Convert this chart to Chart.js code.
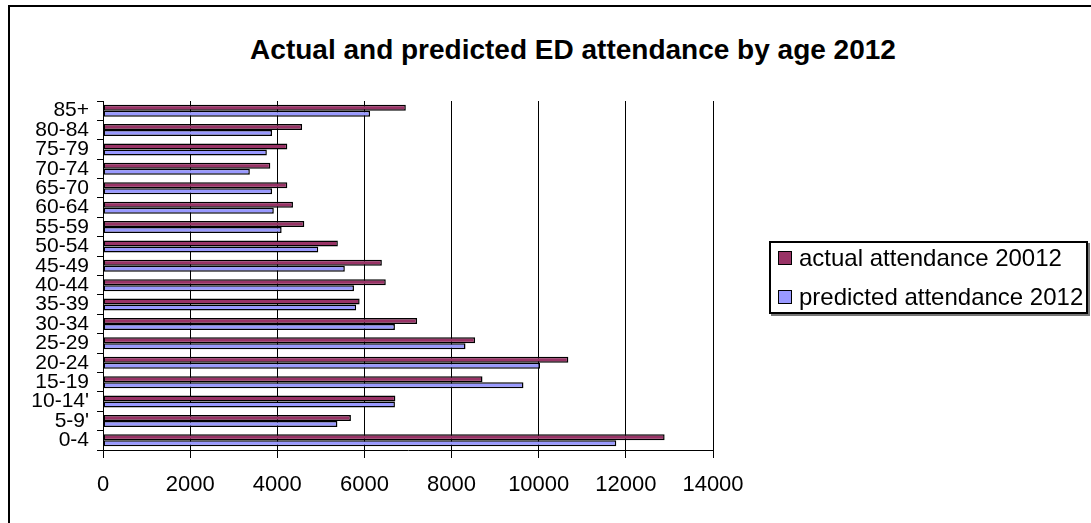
<!DOCTYPE html>
<html>
<head>
<meta charset="utf-8">
<script src="https://cdn.jsdelivr.net/npm/chart.js@4.4.1/dist/chart.umd.min.js"></script>
<style>
  html, body { margin: 0; padding: 0; background: #fff; overflow: hidden; }
  body { width: 1091px; height: 523px; position: relative; font-family: "Liberation Sans", Arial, sans-serif; }
  #frame { position: absolute; left: 8px; top: 5px; width: 1200px; height: 600px;
           border-left: 2px solid #000; border-top: 2px solid #000; }
  #title { position: absolute; left: 0; width: 1146px; top: 36px; text-align: center;
           font: bold 28px/28px "Liberation Sans", Arial, sans-serif; color: #000; white-space: nowrap; }
  #wrap { position: absolute; left: 10px; top: 7px; width: 1081px; height: 516px; }
  #legend { position: absolute; left: 769px; top: 241px; width: 315px; height: 69px;
            border: 2px solid #000; background: #fff; box-shadow: 2px 2px 0 #777; }
  .item { position: absolute; left: 7px; height: 26px; font: 24px/26px "Liberation Sans", Arial, sans-serif; color: #000; white-space: nowrap; }
  .sw { position: absolute; left: 0; top: 6px; width: 12px; height: 12px; border: 1px solid #000; }
  .lt { position: absolute; left: 21px; top: 0; }
</style>
</head>
<body>
<div id="frame"></div>
<div id="title">Actual and predicted ED attendance by age 2012</div>
<div id="wrap"><canvas id="c"></canvas></div>
<div id="legend"></div>
<script>
// Age groups listed top to bottom
const ageGroups = ["85+", "80-84", "75-79", "70-74", "65-70", "60-64", "55-59", "50-54", "45-49",
                   "40-44", "35-39", "30-34", "25-29", "20-24", "15-19", "10-14'", "5-9'", "0-4"];
const actualAttendance = [6950, 4570, 4230, 3840, 4230, 4360, 4620, 5390, 6400,
                          6490, 5890, 7210, 8540, 10680, 8710, 6710, 5690, 12890];
const predictedAttendance = [6130, 3880, 3760, 3370, 3880, 3920, 4100, 4940, 5550,
                             5760, 5810, 6700, 8320, 10030, 9650, 6700, 5380, 11780];
const seriesNames = ["actual attendance 20012", "predicted attendance 2012"];
const seriesColors = ["#993366", "#9999FF"];
const xTicks = [0, 2000, 4000, 6000, 8000, 10000, 12000, 14000];

const font = "'Liberation Sans', Arial, sans-serif";

new Chart(document.getElementById("c"), {
  type: "bar",
  data: {
    labels: ageGroups,
    datasets: [
      { label: seriesNames[0], data: actualAttendance, backgroundColor: seriesColors[0],
        borderColor: "#000", borderWidth: 1.5, borderSkipped: false },
      { label: seriesNames[1], data: predictedAttendance, backgroundColor: seriesColors[1],
        borderColor: "#000", borderWidth: 1.5, borderSkipped: false }
    ]
  },
  options: {
    indexAxis: "y",
    responsive: true,
    maintainAspectRatio: false,
    animation: false,
    datasets: { bar: { categoryPercentage: 0.62, barPercentage: 1.0 } },
    layout: { padding: { top: 94, left: 0, right: 378, bottom: 13 } },
    plugins: { legend: { display: false }, title: { display: false }, tooltip: { enabled: false } },
    scales: {
      x: {
        min: xTicks[0], max: xTicks[xTicks.length - 1],
        afterBuildTicks: s => { s.ticks = xTicks.map(v => ({ value: v })); },
        afterFit: s => { s.height = 60; },
        grid: { color: "#000", lineWidth: 1, drawTicks: true, tickLength: 8, tickColor: "#000" },
        border: { color: "#000", width: 1 },
        ticks: { color: "#000", font: { family: font, size: 22 }, padding: 14, maxRotation: 0, autoSkip: false,
                 callback: v => String(v) }
      },
      y: {
        afterFit: s => { s.width = 93; },
        grid: { drawOnChartArea: false, drawTicks: true, tickLength: 6, tickColor: "#000", offset: true },
        border: { color: "#000", width: 1 },
        ticks: { color: "#000", font: { family: font, size: 21 }, padding: 8, autoSkip: false }
      }
    }
  }
});

// Legend box built from the series names and colours
const legend = document.getElementById("legend");
const rowTops = [2, 41];
seriesNames.forEach((name, i) => {
  const item = document.createElement("div");
  item.className = "item";
  item.style.top = rowTops[i] + "px";
  const sw = document.createElement("span");
  sw.className = "sw";
  sw.style.background = seriesColors[i];
  const t = document.createElement("span");
  t.className = "lt";
  t.textContent = name;
  item.appendChild(sw);
  item.appendChild(t);
  legend.appendChild(item);
});
</script>
</body>
</html>
